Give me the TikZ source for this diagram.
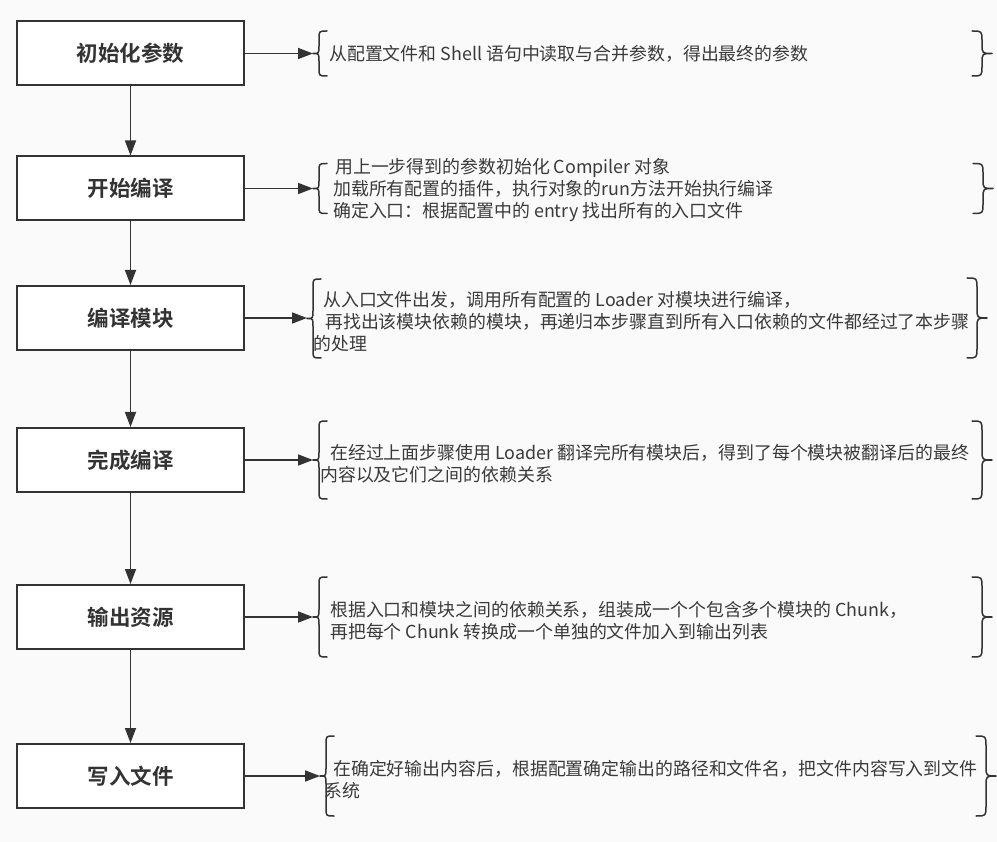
\documentclass[tikz,border=0pt]{standalone}
\usepackage{fontspec}
\setmainfont{Noto Sans CJK SC}[BoldFont={Noto Sans CJK SC Bold}]
\usetikzlibrary{arrows.meta}
\definecolor{ink}{HTML}{333333}
\definecolor{txt}{HTML}{3A3A3A}
\definecolor{bg}{HTML}{FAFAFA}
\newcommand\mybraceL[3]{%
  \draw[brc] (#1+14,#2) .. controls (#1+6,#2) .. (#1+6,#2+8)
    -- (#1+6,{(#2+#3)/2-8}) .. controls (#1+6,{(#2+#3)/2}) .. (#1,{(#2+#3)/2})
    .. controls (#1+6,{(#2+#3)/2}) .. (#1+6,{(#2+#3)/2+8})
    -- (#1+6,#3-8) .. controls (#1+6,#3) .. (#1+14,#3);}
\newcommand\mybraceR[3]{%
  \draw[brc] (#1-20,#2) .. controls (#1-10,#2) .. (#1-10,#2+10)
    -- (#1-10,{(#2+#3)/2-10}) .. controls (#1-10,{(#2+#3)/2}) .. (#1,{(#2+#3)/2})
    .. controls (#1-10,{(#2+#3)/2}) .. (#1-10,{(#2+#3)/2+10})
    -- (#1-10,#3-10) .. controls (#1-10,#3) .. (#1-20,#3);}
\begin{document}
\begin{tikzpicture}[x=1pt,y=-1pt,
  stepbox/.style={draw=ink, line width=2pt, fill=white, minimum width=227pt,
    minimum height=64pt, inner sep=0pt,
    font=\fontsize{21.5}{24}\selectfont\bfseries, text=ink},
  desc/.style={anchor=west, align=left, inner sep=0pt,
    font=\fontsize{17.9}{22}\selectfont, text=txt},
  flow/.style={draw=ink, line width=1.5pt, -{Triangle[length=15pt,width=11pt]}},
  brc/.style={draw=ink, line width=1.5pt, line join=round, line cap=round}]
\fill[bg] (0,0) rectangle (997,842);
\useasboundingbox (0,0) rectangle (997,842);

\node[stepbox] (s1) at (130.5,53.5) {初始化参数};
\node[stepbox] (s2) at (130.5,188.5) {开始编译};
\node[stepbox] (s3) at (130.5,318) {编译模块};
\node[stepbox] (s4) at (130.5,460) {完成编译};
\node[stepbox] (s5) at (130.5,617) {输出资源};
\node[stepbox] (s6) at (130.5,776) {写入文件};

\draw[flow] (s1) -- (s2);
\draw[flow] (s2) -- (s3);
\draw[flow] (s3) -- (s4);
\draw[flow] (s4) -- (s5);
\draw[flow] (s5) -- (s6);

% braces
\mybraceL{313}{31}{76}   \mybraceR{992}{31}{76}
\mybraceL{313}{163.5}{213.5} \mybraceR{993}{163.5}{213.5}
\mybraceL{307}{279}{358} \mybraceR{987}{278}{358}
\mybraceL{313}{421}{499} \mybraceR{992}{421}{499}
\mybraceL{313}{577}{657} \mybraceR{992}{577}{657}
\mybraceL{320}{736}{816} \mybraceR{996}{736}{816}

\coordinate (b1) at (313,53.5);
\coordinate (b2) at (313,188.5);
\coordinate (b3) at (307,318.5);
\coordinate (b4) at (313,460);
\coordinate (b5) at (313,617);
\coordinate (b6) at (320,776);

\draw[flow] (s1.east) -- (b1);
\draw[flow] (s2.east) -- (b2);
\draw[flow] (s3.east) -- (s3.east -| b3);
\draw[flow] (s4.east) -- (b4);
\draw[flow] (s5.east) -- (b5);
\draw[flow] (s6.east) -- (b6);

\node[desc] (t1) at (329,53.5) {从配置文件和 Shell 语句中读取与合并参数，得出最终的参数};
\node[desc] (t2) at (333,190) {\hspace{2pt}用上一步得到的参数初始化 Compiler 对象\\加载所有配置的插件，执行对象的run方法开始执行编译\\确定入口：根据配置中的 entry 找出所有的入口文件};
\node[desc] (t3) at (313,321.5) {\hspace{10pt}从入口文件出发，调用所有配置的 Loader 对模块进行编译，\\\hspace{12pt}再找出该模块依赖的模块，再递归本步骤直到所有入口依赖的文件都经过了本步骤\\的处理};
\node[desc] (t4) at (320,464) {\hspace{10pt}在经过上面步骤使用 Loader 翻译完所有模块后，得到了每个模块被翻译后的最终\\内容以及它们之间的依赖关系};
\node[desc] (t5) at (330,620.5) {根据入口和模块之间的依赖关系，组装成一个个包含多个模块的 Chunk，\\再把每个 Chunk 转换成一个单独的文件加入到输出列表};
\node[desc] (t6) at (324,779.5) {\hspace{9pt}在确定好输出内容后，根据配置确定输出的路径和文件名，把文件内容写入到文件\\系统};
\end{tikzpicture}
\end{document}
